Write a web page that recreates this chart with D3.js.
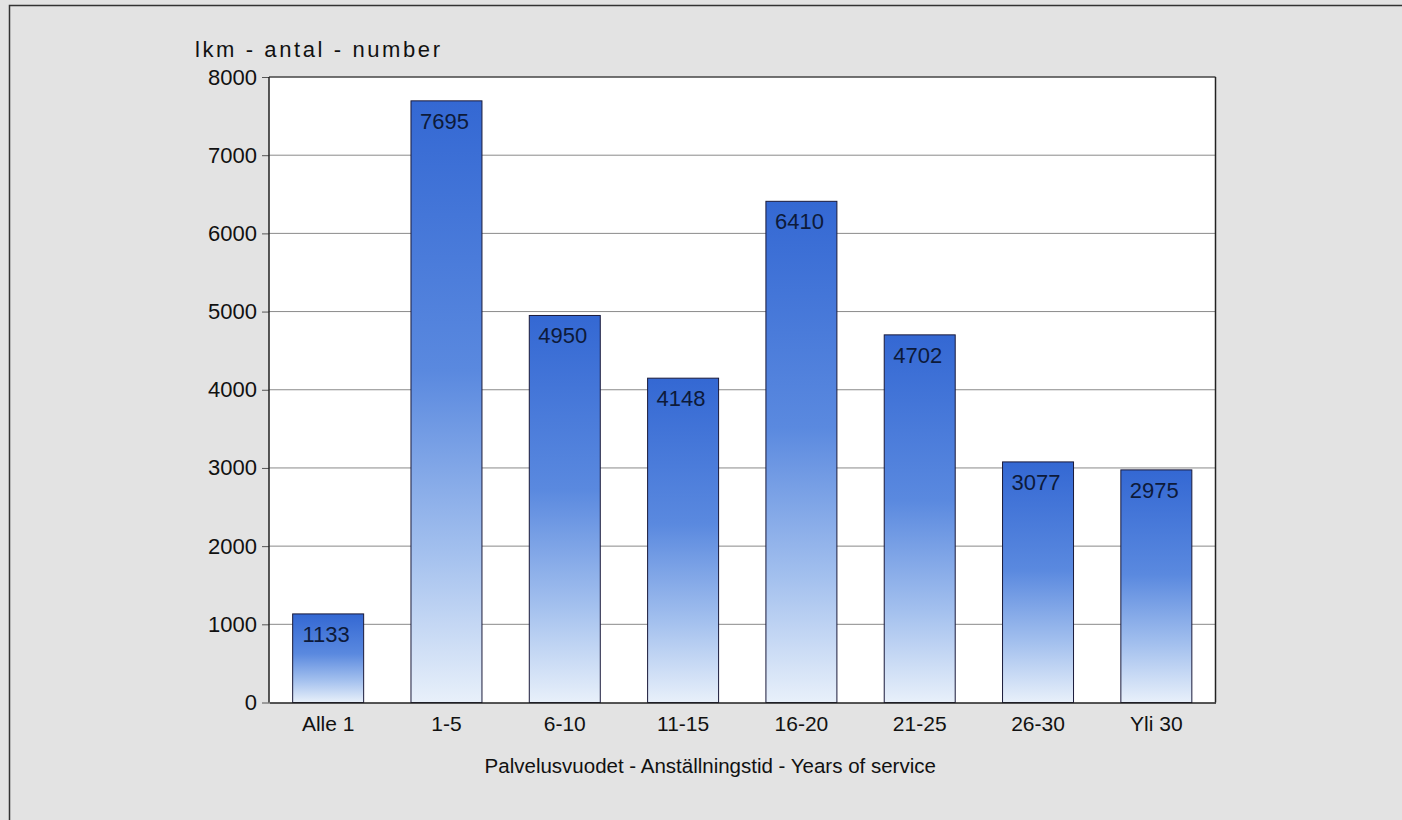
<!DOCTYPE html>
<html><head><meta charset="utf-8">
<script src="https://cdn.jsdelivr.net/npm/d3@7"></script>
<style>body{margin:0;background:#e3e3e3;}svg{display:block;font-family:"Liberation Sans",Arial,sans-serif;}</style>
</head><body>
<script>
const categories = ["Alle 1","1-5","6-10","11-15","16-20","21-25","26-30","Yli 30"];
const values = [1133,7695,4950,4148,6410,4702,3077,2975];
const yTicks = [0,1000,2000,3000,4000,5000,6000,7000,8000];
const yTitle = "lkm - antal - number";
const xTitle = "Palvelusvuodet - Anställningstid - Years of service";

const W=1402,H=820;
const m={left:269,top:77,right:1215.5,bottom:702.5};
const svg=d3.select("body").append("svg").attr("width",W).attr("height",H);
svg.append("rect").attr("width",W).attr("height",H).attr("fill","#e3e3e3");
svg.append("rect").attr("x",9.5).attr("y",5.5).attr("width",W).attr("height",H)
  .attr("fill","none").attr("stroke","#333").attr("stroke-width",1.5);

const x=d3.scaleBand().domain(categories).range([m.left,m.right]).paddingInner(0.4).paddingOuter(0.2);
const y=d3.scaleLinear().domain([0,8000]).range([m.bottom,m.top]);

const defs=svg.append("defs");
const g=defs.append("linearGradient").attr("id","bg").attr("x1",0).attr("y1",0).attr("x2",0).attr("y2",1);
[["0%","#3468d3"],["45%","#5a89df"],["75%","#a3c0ee"],["100%","#e8f0fa"]].forEach(s=>
  g.append("stop").attr("offset",s[0]).attr("stop-color",s[1]));

svg.append("rect").attr("x",m.left).attr("y",m.top).attr("width",m.right-m.left).attr("height",m.bottom-m.top).attr("fill","#fff");

// gridlines
svg.append("g").selectAll("line").data(yTicks.filter(d=>d>0)).join("line")
  .attr("x1",m.left).attr("x2",m.right).attr("y1",d=>y(d)).attr("y2",d=>y(d))
  .attr("stroke","#8a8a8a").attr("stroke-width",1);

// y axis
const ya=svg.append("g").attr("transform",`translate(${m.left},0)`)
  .call(d3.axisLeft(y).tickValues(yTicks).tickSize(7).tickPadding(5).tickFormat(d3.format("d")));
ya.select(".domain").remove();
ya.selectAll(".tick line").attr("stroke","#555");
ya.selectAll("text").attr("font-size",22).attr("fill","#111").attr("font-family","Liberation Sans, Arial, sans-serif");

// bars
svg.append("g").selectAll("rect").data(values).join("rect")
  .attr("x",(d,i)=>x(categories[i])).attr("y",d=>y(d))
  .attr("width",x.bandwidth()).attr("height",d=>m.bottom-y(d))
  .attr("fill","url(#bg)").attr("stroke","#1a1a3a").attr("stroke-width",1);

svg.append("g").selectAll("text").data(values).join("text")
  .attr("x",(d,i)=>x(categories[i])+x.bandwidth()/2-2).attr("y",d=>y(d)+28)
  .attr("text-anchor","middle").attr("font-size",22).attr("fill","#0d1a3a")
  .text(d=>d);

// plot frame
svg.append("line").attr("x1",m.left).attr("x2",m.left).attr("y1",m.top).attr("y2",m.bottom).attr("stroke","#222").attr("stroke-width",1.5);
svg.append("line").attr("x1",m.right).attr("x2",m.right).attr("y1",m.top).attr("y2",m.bottom).attr("stroke","#222").attr("stroke-width",1.5);
svg.append("line").attr("x1",m.left).attr("x2",m.right).attr("y1",m.top).attr("y2",m.top).attr("stroke","#222").attr("stroke-width",1);

// x axis
const xa=svg.append("g").attr("transform",`translate(0,${m.bottom})`)
  .call(d3.axisBottom(x).tickSize(0).tickPadding(14));
xa.select(".domain").attr("stroke","#222").attr("stroke-width",1.5);
xa.selectAll("text").attr("font-size",21).attr("fill","#111").attr("font-family","Liberation Sans, Arial, sans-serif");

svg.append("text").attr("x",(m.left+m.right)/2-32).attr("y",773).attr("text-anchor","middle")
  .attr("font-size",20.5).attr("fill","#111").text(xTitle);
svg.append("text").attr("x",195).attr("y",57).attr("font-size",22).attr("letter-spacing","2.6px")
  .attr("fill","#111").text(yTitle);
</script>
</body></html>
